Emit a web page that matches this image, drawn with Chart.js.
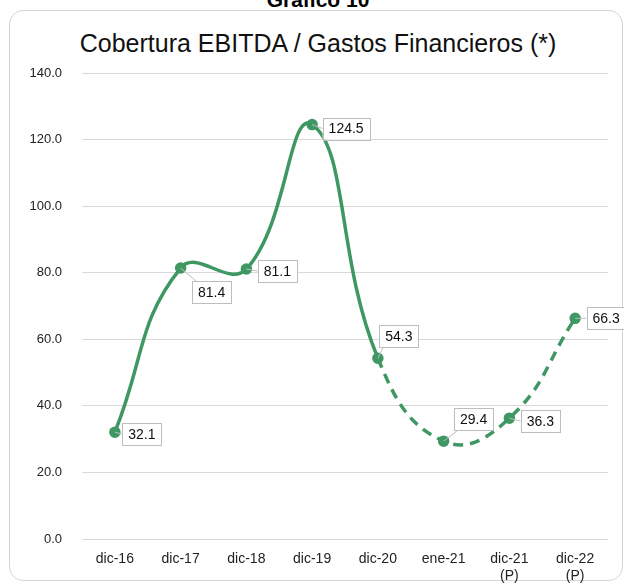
<!DOCTYPE html>
<html lang="es">
<head>
    <meta charset="UTF-8">
    <title>Cobertura EBITDA / Gastos Financieros</title>
    <script src="https://cdn.jsdelivr.net/npm/chart.js"></script>
    <style>
        body {
            margin: 0;
            background: #ffffff;
            font-family: "Liberation Sans", Arial, sans-serif;
            overflow: hidden;
        }
        .card {
            position: absolute;
            left: 9px;
            top: 10px;
            width: 612px;
            height: 569px;
            border: 1px solid #d4d4d4;
            border-radius: 14px;
        }
        .top-label {
            position: absolute;
            left: 0;
            width: 636px;
            top: -12px;
            text-align: center;
            font-weight: bold;
            font-size: 21px;
            color: #000;
        }
        .title {
            position: absolute;
            left: 0;
            width: 636px;
            top: 29px;
            text-align: center;
            font-size: 25px;
            color: #111;
        }
        .chart-box {
            position: absolute;
            left: 0;
            top: 0;
            width: 624px;
            height: 585px;
        }
    </style>
</head>
<body>
    <div class="card"></div>
    <div class="top-label">Gráfico 10</div>
    <div class="title">Cobertura EBITDA / Gastos Financieros (*)</div>
    <div class="chart-box"><canvas id="coberturaChart"></canvas></div>

    <script>
        // data
        const categories = ['dic-16', 'dic-17', 'dic-18', 'dic-19', 'dic-20', 'ene-21', ['dic-21', '(P)'], ['dic-22', '(P)']];
        const cobertura = [32.1, 81.4, 81.1, 124.5, 54.3, 29.4, 36.3, 66.3];
        const yTicks = [0, 20, 40, 60, 80, 100, 120, 140];
        const firstDashedIndex = 4; // line turns dashed after dic-20

        const green = '#3f9863';

        // label box offsets (from point centre), px
        const labelOffsets = [[27, 2], [31, 24], [31, 2], [34, 4], [21, -22], [30, -22], [31, 3], [31, 0]];

        const boxLabels = {
            id: 'boxLabels',
            afterDatasetsDraw(chart) {
                const ctx = chart.ctx;
                const meta = chart.getDatasetMeta(0);
                ctx.save();
                ctx.font = '14px "Liberation Sans", Arial, sans-serif';
                ctx.textAlign = 'center';
                ctx.textBaseline = 'middle';
                meta.data.forEach((pt, i) => {
                    const txt = cobertura[i].toFixed(1);
                    const w = ctx.measureText(txt).width + 12;
                    const h = 22;
                    const cx = pt.x + labelOffsets[i][0];
                    const cy = pt.y + labelOffsets[i][1];
                    // leader line to nearest box edge
                    let ex = cx, ey = cy;
                    if (Math.abs(labelOffsets[i][1]) > 12) {
                        ex = cx - w / 2 + 4;
                        ey = labelOffsets[i][1] > 0 ? cy - h / 2 : cy + h / 2;
                    } else {
                        ex = cx - w / 2;
                    }
                    ctx.strokeStyle = '#bdbdbd';
                    ctx.lineWidth = 1;
                    ctx.beginPath();
                    ctx.moveTo(pt.x, pt.y);
                    ctx.lineTo(ex, ey);
                    ctx.stroke();
                    ctx.fillStyle = '#ffffff';
                    ctx.fillRect(cx - w / 2, cy - h / 2, w, h);
                    ctx.strokeRect(Math.round(cx - w / 2) + 0.5, Math.round(cy - h / 2) + 0.5, Math.round(w), h);
                    ctx.fillStyle = '#111';
                    ctx.fillText(txt, cx, cy + 1);
                });
                ctx.restore();
            }
        };

        const ctx = document.getElementById('coberturaChart').getContext('2d');

        new Chart(ctx, {
            type: 'line',
            data: {
                labels: categories,
                datasets: [{
                    data: cobertura,
                    borderColor: green,
                    backgroundColor: green,
                    borderWidth: 3.5,
                    tension: 0.45,
                    pointRadius: 4,
                    pointBackgroundColor: green,
                    pointBorderColor: green,
                    fill: false,
                    segment: {
                        borderDash: c => c.p0DataIndex >= firstDashedIndex ? [10, 7] : undefined
                    }
                }]
            },
            options: {
                responsive: true,
                maintainAspectRatio: false,
                animation: false,
                layout: {
                    padding: { top: 73, right: 16, bottom: 0, left: 0 }
                },
                plugins: {
                    legend: { display: false },
                    tooltip: { enabled: false }
                },
                scales: {
                    x: {
                        offset: true,
                        grid: { display: false },
                        border: { display: false },
                        ticks: {
                            color: '#222',
                            font: { size: 14, family: '"Liberation Sans", Arial, sans-serif' },
                            padding: 4,
                            maxRotation: 0
                        },
                        afterFit(scale) { scale.height = 46; }
                    },
                    y: {
                        min: 0,
                        max: 140,
                        afterBuildTicks(scale) {
                            scale.ticks = yTicks.map(v => ({ value: v }));
                        },
                        grid: { color: '#d9d9d9', drawTicks: false },
                        border: { display: false },
                        ticks: {
                            color: '#222',
                            font: { size: 13, family: '"Liberation Sans", Arial, sans-serif' },
                            padding: 20,
                            callback: v => v.toFixed(1)
                        },
                        afterFit(scale) { scale.width = 82; }
                    }
                }
            },
            plugins: [boxLabels]
        });
    </script>
</body>
</html>
